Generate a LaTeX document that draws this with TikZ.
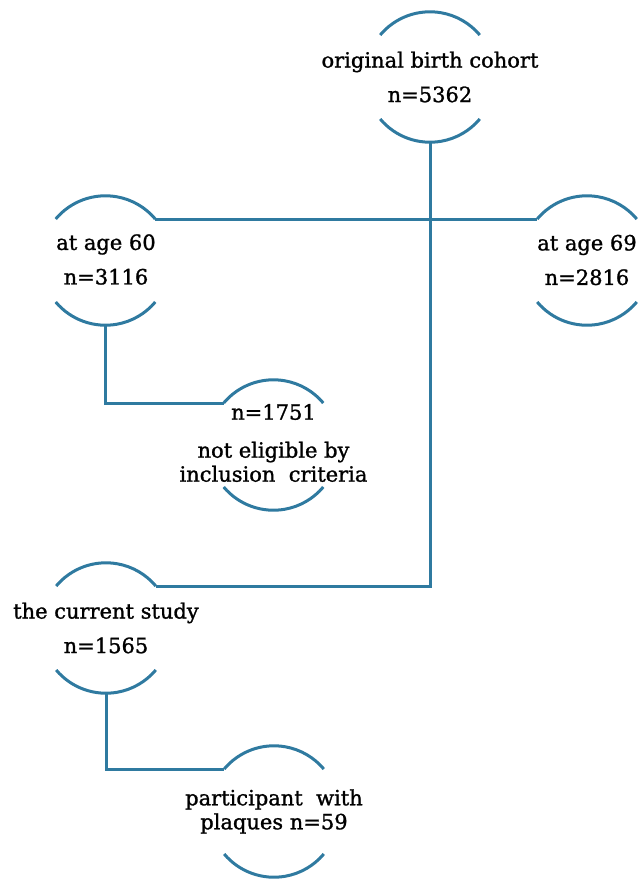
\documentclass[tikz,border=0pt]{standalone}
\usepackage{fontspec}
\setmainfont{DejaVu Serif}
\newfontfamily\labfont{DejaVu Serif}[FakeBold=1.2]
\definecolor{arcblue}{HTML}{2F7AA0}
\tikzset{
  arcline/.style={draw=arcblue, line width=3pt},
  conn/.style={draw=arcblue, line width=3pt},
  label/.style={align=center, inner sep=0pt, font=\labfont\fontsize{21}{24}\selectfont, text=black},
}
\newcommand\bracketpair[4]{% name, cx, ytop, ybot (image y, downwards)
  \coordinate (#1-tl) at (#2-49.8,-#3);
  \coordinate (#1-tr) at (#2+49.8,-#3);
  \coordinate (#1-bl) at (#2-49.8,-#4);
  \coordinate (#1-b) at (#2,-#4-23.2);
  \draw[arcline] (#1-tl) arc[start angle=140,end angle=40,radius=65];
  \draw[arcline] (#1-bl) arc[start angle=220,end angle=320,radius=65];
}
\begin{document}
\begin{tikzpicture}[x=1pt,y=1pt]
\useasboundingbox (0,0) rectangle (642,-879);
% boxes
\bracketpair{orig}{430}{35}{119}
\bracketpair{asixty}{105.5}{219}{302}
\bracketpair{asixtynine}{587}{219}{302}
\bracketpair{ne}{273.5}{403}{487}
\bracketpair{cs}{106}{586}{670}
\bracketpair{pw}{274}{769}{854}
% texts
\node[label] (origt) at (430,-77) {original birth cohort\\[10.5pt]n=5362};
\node[label] (asixtyt) at (106,-259.5) {at age 60\\[10.5pt]n=3116};
\node[label] (asixtyninet) at (587,-260) {at age 69\\[10.5pt]n=2816};
\node[label] (net) at (273.5,-443) {n=1751\\[14pt]not eligible by\\inclusion\ \ criteria};
\node[label] (cst) at (106,-628) {the current study\\[10.5pt]n=1565};
\node[label] (pwt) at (274,-811.5) {participant\ \ with\\plaques n=59};
% connectors
\draw[conn] (orig-b) |- (cs-tr);
\draw[conn] (asixty-tr) -- (asixtynine-tl);
\draw[conn] (asixty-b) |- (ne-tl);
\draw[conn] (cs-b) |- (pw-tl);
\end{tikzpicture}
\end{document}
